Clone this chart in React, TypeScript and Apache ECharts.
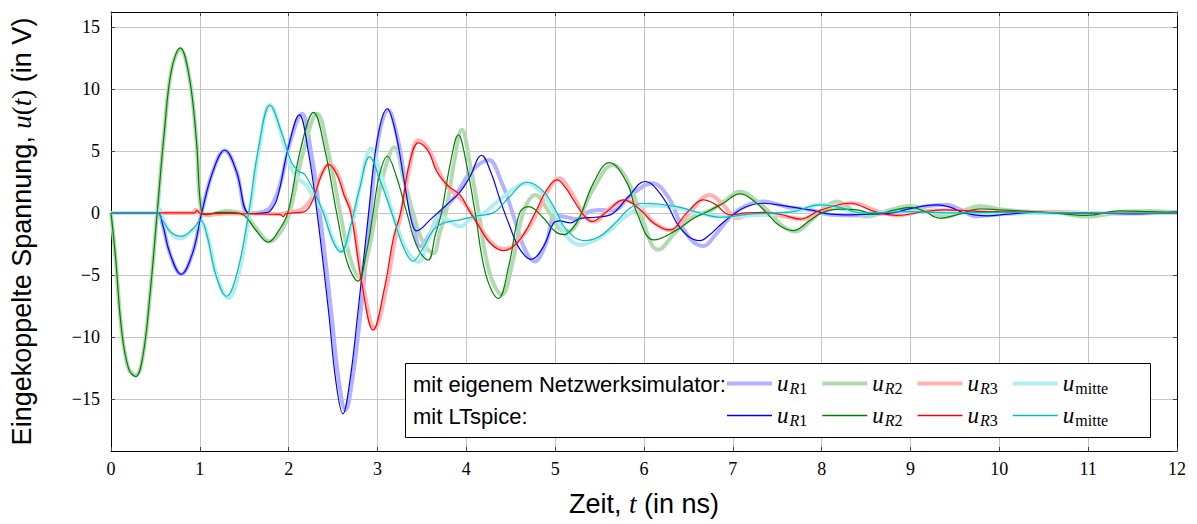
import React, { useEffect, useRef } from "react";
import * as echarts from "echarts";

type P = [number, number];

// t in ns, u in V
const ltR1: P[] = [[0,0],[0.52,0],[0.58,-0.9],[0.66,-3.2],[0.79,-4.95],[0.92,-3.2],[1.02,0],[1.15,3.4],[1.28,5.05],[1.41,3.4],[1.54,0],[1.62,-0.05],[1.72,0],[1.79,0.15],[1.87,1.15],[2.0,5.4],[2.12,7.9],[2.22,5.0],[2.32,0],[2.45,-8.0],[2.53,-13.5],[2.61,-16.2],[2.69,-13.5],[2.78,-8.0],[2.9,0],[3.0,6.0],[3.11,8.4],[3.2,6.6],[3.3,2.6],[3.38,-0.6],[3.44,-1.45],[3.6,-0.5],[3.77,0.6],[3.93,1.7],[4.04,2.9],[4.17,4.65],[4.28,3.2],[4.38,1.05],[4.49,-1.1],[4.6,-2.9],[4.73,-3.75],[4.87,-2.7],[4.98,-0.85],[5.05,-0.65],[5.17,-0.8],[5.28,-0.45],[5.45,-0.35],[5.62,-0.16],[5.81,1.18],[6.01,2.53],[6.22,1.18],[6.37,-0.83],[6.5,-1.9],[6.63,-2.23],[6.74,-1.77],[6.87,-0.9],[7.0,-0.16],[7.15,0.5],[7.34,0.78],[7.6,0.55],[7.87,0.24],[8.1,-0.1],[8.32,-0.16],[8.55,-0.1],[8.8,0],[9.0,0.35],[9.3,0.65],[9.45,0.45],[9.6,0],[9.86,-0.24],[10.1,-0.1],[10.4,0.05],[10.8,0],[11.2,-0.05],[11.6,-0.08],[12,0.08]];
const ltR2: P[] = [[0,0],[0.05,-3.5],[0.12,-9.5],[0.2,-12.6],[0.278,-13.2],[0.36,-11.5],[0.44,-6.5],[0.52,0],[0.6,6.5],[0.68,11.5],[0.78,13.3],[0.88,11.0],[0.96,6.0],[1.02,0],[1.08,-0.15],[1.2,0.05],[1.35,0.05],[1.5,-0.2],[1.62,-1.3],[1.77,-2.36],[1.89,-1.4],[1.99,0],[2.13,5.0],[2.28,8.1],[2.41,5.0],[2.54,0],[2.66,-4.0],[2.78,-5.5],[2.88,-3.0],[2.95,0],[3.02,3.0],[3.11,4.57],[3.21,3.0],[3.33,0],[3.45,-2.8],[3.57,-3.8],[3.65,-1.8],[3.72,0],[3.82,4.0],[3.91,6.3],[4.0,4.0],[4.1,0],[4.22,-5.0],[4.36,-6.9],[4.48,-4.2],[4.6,0],[4.7,0.5],[4.87,-0.43],[5.0,-1.5],[5.1,-1.75],[5.2,-1.2],[5.28,-0.3],[5.43,2.4],[5.61,4.06],[5.81,2.4],[5.92,0],[6.11,-2.18],[6.37,-1.37],[6.56,-0.43],[6.74,0.2],[6.89,0.78],[7.08,1.53],[7.25,0.9],[7.38,0],[7.52,-1.0],[7.68,-1.43],[7.85,-0.7],[8.0,0],[8.2,0.3],[8.4,0.25],[8.6,-0.1],[8.8,0.2],[9.0,0.45],[9.15,0.15],[9.33,-0.43],[9.55,-0.1],[9.78,0.32],[10.0,0.25],[10.23,0.16],[10.6,0],[10.98,-0.2],[11.36,0.16],[11.7,0.1],[12,0.05]];
const ltR3: P[] = [[0,0],[0.94,0],[0.97,0.2],[0.99,0.05],[1.02,-0.08],[1.3,-0.05],[1.6,-0.08],[1.9,-0.12],[1.94,-0.3],[1.97,-0.05],[2.05,0],[2.18,0.1],[2.27,1.0],[2.36,2.9],[2.45,3.92],[2.55,3.0],[2.62,1.5],[2.7,0],[2.82,-5.5],[2.95,-9.46],[3.08,-6.0],[3.18,-2.0],[3.26,0],[3.36,4.0],[3.46,5.65],[3.57,5.0],[3.67,3.3],[3.8,2.15],[3.93,1.45],[4.03,0.2],[4.12,-0.8],[4.27,-2.45],[4.42,-3.04],[4.6,-2.18],[4.79,0.24],[4.9,1.8],[5.02,2.66],[5.12,2.0],[5.2,1.1],[5.32,-0.16],[5.41,-0.7],[5.58,0.1],[5.77,1.05],[5.96,0.24],[6.11,-0.83],[6.29,-1.37],[6.48,0],[6.67,1.05],[6.8,0.7],[6.97,-0.16],[7.15,0],[7.35,0.05],[7.55,-0.15],[7.76,-0.5],[7.98,0.2],[8.32,0.78],[8.6,0.1],[8.85,-0.2],[9.15,0.1],[9.4,0.25],[9.7,0.15],[10.0,0.1],[10.5,0.05],[11,0],[11.5,-0.05],[12,-0.05]];
const ltMitte: P[] = [[0,0],[0.52,0],[0.58,-0.6],[0.68,-1.6],[0.8,-1.88],[0.92,-1.3],[1.01,-0.59],[1.08,-1.8],[1.18,-5.0],[1.3,-6.72],[1.42,-4.8],[1.55,0],[1.66,5.2],[1.79,8.68],[1.92,6.5],[2.03,4.1],[2.11,3.36],[2.18,3.1],[2.28,1.8],[2.39,0],[2.5,-2.3],[2.59,-3.15],[2.69,-1.2],[2.8,2.0],[2.91,4.52],[3.03,2.6],[3.16,0],[3.3,-2.9],[3.4,-3.9],[3.5,-3.0],[3.63,-1.37],[3.74,-0.83],[3.93,-0.56],[4.12,-0.24],[4.3,0],[4.49,1.32],[4.68,2.47],[4.87,1.72],[5.02,0],[5.12,-1.3],[5.32,-2.23],[5.5,-1.9],[5.69,-0.7],[5.84,0.38],[5.99,0.78],[6.37,0.51],[6.6,0.05],[6.86,-0.35],[7.2,-0.1],[7.5,0],[7.68,0.1],[7.98,0.65],[8.24,0.38],[8.43,0],[8.7,0.05],[9.0,0.1],[9.5,0],[10,0.05],[11,0],[12,0]];

const simR1: P[] = [[0,0],[0.52,0],[0.58,-0.9],[0.66,-3.2],[0.79,-4.95],[0.92,-3.2],[1.02,0],[1.15,3.4],[1.28,5.05],[1.41,3.4],[1.54,0],[1.62,0],[1.72,0.1],[1.8,0.5],[1.9,2.2],[2.02,5.8],[2.15,8.0],[2.25,5.0],[2.35,0],[2.48,-8.0],[2.56,-13.3],[2.64,-15.9],[2.72,-13.3],[2.81,-8.0],[2.92,0],[3.01,6.0],[3.12,8.3],[3.22,6.2],[3.32,2.2],[3.41,-1.0],[3.48,-2.7],[3.58,-1.8],[3.72,0],[3.88,1.4],[4.05,3.3],[4.25,4.27],[4.4,2.4],[4.52,0],[4.65,-2.8],[4.77,-3.92],[4.9,-2.4],[5.0,-0.2],[5.1,-0.3],[5.25,-0.5],[5.38,0.1],[5.5,0.24],[5.65,0.2],[5.85,1.4],[6.09,2.4],[6.28,1.2],[6.42,-1.0],[6.55,-2.3],[6.67,-2.66],[6.8,-1.8],[6.95,-0.5],[7.1,0.4],[7.34,0.91],[7.6,0.5],[7.9,0.2],[8.1,-0.15],[8.4,-0.2],[8.7,-0.05],[9.0,0.3],[9.2,0.55],[9.41,0.65],[9.55,0.3],[9.74,-0.27],[10.0,-0.1],[10.3,0.1],[10.6,0],[11,0],[11.4,-0.05],[12,0.05]];
const simR2: P[] = [[0,0],[0.05,-3.5],[0.12,-9.5],[0.2,-12.6],[0.28,-13.1],[0.36,-11.5],[0.44,-6.5],[0.52,0],[0.6,6.5],[0.68,11.5],[0.78,13.2],[0.88,11.0],[0.96,6.0],[1.02,0],[1.1,-0.2],[1.2,0],[1.3,0.15],[1.4,0.1],[1.52,-0.2],[1.64,-1.3],[1.79,-2.3],[1.91,-1.5],[2.01,0],[2.16,4.8],[2.32,8.0],[2.45,4.8],[2.58,0],[2.69,-3.6],[2.8,-5.2],[2.9,-3.0],[2.98,0],[3.07,3.2],[3.19,5.3],[3.3,2.6],[3.4,0],[3.52,-2.5],[3.63,-3.25],[3.7,-1.6],[3.77,0],[3.86,4.0],[3.95,6.7],[4.04,4.0],[4.14,0],[4.26,-4.8],[4.4,-6.6],[4.52,-4.0],[4.64,0],[4.78,1.45],[4.92,0.2],[5.05,-1.3],[5.15,-1.5],[5.25,-0.8],[5.42,1.8],[5.65,3.87],[5.83,2.4],[5.97,-0.3],[6.16,-2.98],[6.35,-1.6],[6.55,-0.3],[6.75,0.2],[6.9,0.9],[7.08,1.72],[7.28,0.9],[7.42,0],[7.55,-1.0],[7.7,-1.5],[7.88,-0.6],[8.0,0.2],[8.17,0.91],[8.35,0.2],[8.5,-0.3],[8.75,0.2],[9.0,0.56],[9.2,0.1],[9.4,-0.3],[9.6,0.2],[9.78,0.56],[10.0,0.3],[10.3,0.1],[10.6,0.05],[11.0,-0.3],[11.4,0.1],[11.7,0.15],[12,0]];
const simR3: P[] = [[0,0],[0.92,0],[0.95,0.25],[0.98,0.1],[1.02,-0.1],[1.15,-0.12],[1.3,-0.05],[1.6,-0.05],[1.9,-0.08],[2.0,0.05],[2.15,0.3],[2.26,1.2],[2.36,3.0],[2.46,3.92],[2.56,3.0],[2.63,1.5],[2.71,0],[2.83,-5.5],[2.97,-9.3],[3.1,-6.0],[3.2,-2.0],[3.27,0],[3.37,4.0],[3.46,5.86],[3.57,5.2],[3.7,3.2],[3.8,2.0],[3.89,1.45],[4.0,0.6],[4.1,-0.5],[4.27,-2.3],[4.42,-2.93],[4.62,-2.0],[4.82,0.3],[4.93,1.9],[5.05,2.8],[5.15,2.0],[5.25,0.8],[5.35,-0.4],[5.45,-0.7],[5.6,0.3],[5.8,1.0],[5.95,0.5],[6.1,-0.7],[6.3,-1.4],[6.5,-0.1],[6.74,1.45],[6.9,0.6],[7.04,-0.43],[7.2,-0.1],[7.5,-0.2],[7.8,-0.5],[8.0,0.1],[8.36,0.78],[8.6,0.2],[8.85,-0.2],[9.1,0.1],[9.4,0.2],[9.7,0.1],[10.0,-0.1],[10.3,0],[10.6,0.1],[11,0],[12,0]];
const simMitte: P[] = [[0,0],[0.5,0],[0.54,0.35],[0.58,-0.4],[0.67,-1.6],[0.78,-2.07],[0.9,-1.5],[1.02,-0.9],[1.1,-2.3],[1.2,-5.3],[1.32,-6.86],[1.44,-4.8],[1.56,0],[1.67,5.3],[1.79,8.7],[1.92,6.3],[2.03,3.6],[2.11,2.77],[2.2,2.2],[2.3,1.0],[2.4,0],[2.5,-2.2],[2.6,-3.1],[2.7,-1.3],[2.8,2.0],[2.93,5.19],[3.05,2.8],[3.17,0],[3.32,-2.9],[3.46,-3.95],[3.58,-2.0],[3.7,-0.3],[3.8,-0.6],[3.93,-1.1],[4.05,-0.5],[4.2,0],[4.45,1.5],[4.68,2.39],[4.85,1.6],[5.0,0],[5.12,-1.8],[5.28,-2.58],[5.45,-2.2],[5.6,-1.5],[5.75,-0.5],[5.9,0.2],[6.05,0.6],[6.3,0.5],[6.6,0],[6.9,-0.3],[7.2,-0.2],[7.5,-0.1],[7.75,0.2],[8.0,0.7],[8.25,0.3],[8.5,0],[9,0.1],[9.5,0],[10,0],[12,0]];

const seriesNames = ["simR1", "simR2", "simR3", "simMitte", "ltR1", "ltR2", "ltR3", "ltMitte"];
const seriesData = [simR1, simR2, simR3, simMitte, ltR1, ltR2, ltR3, ltMitte];
const seriesColors = ["#b3b3ff", "#b3d9b3", "#ffb3b3", "#b3eded", "#0000ff", "#008000", "#ff0000", "#00bfbf"];
const seriesWidths = [4, 4, 4, 4, 1.2, 1.2, 1.2, 1.2];
const legendLabels: Record<string, string> = {
  simR1: "{u|u}{s|R}{n|1}", simR2: "{u|u}{s|R}{n|2}", simR3: "{u|u}{s|R}{n|3}", simMitte: "{u|u}{n|mitte}",
  ltR1: "{u|u}{s|R}{n|1}", ltR2: "{u|u}{s|R}{n|2}", ltR3: "{u|u}{s|R}{n|3}", ltMitte: "{u|u}{n|mitte}",
};
const rowLabels = ["mit eigenem Netzwerksimulator:", "mit LTspice:"];

const SERIF = "'Liberation Serif', 'DejaVu Serif', serif";
const SANS = "'Liberation Sans', Arial, sans-serif";

export default function App() {
  const ref = useRef<HTMLDivElement>(null);
  useEffect(() => {
    const chart = echarts.init(ref.current!, null, { renderer: "svg" });
    const legendRich = {
      u: { fontFamily: SERIF, fontStyle: "italic", fontSize: 23, color: "#000", padding: [0, 1, 0, 0] },
      s: { fontFamily: SERIF, fontStyle: "italic", fontSize: 16, color: "#000", padding: [9, 0, 0, 0] },
      n: { fontFamily: SERIF, fontSize: 16, color: "#000", padding: [9, 0, 0, 0] },
    };
    const mkLegend = (names: string[], top: number, h: number) => ({
      data: names.map((n) => ({ name: n, icon: "rect" })),
      left: 727,
      top,
      orient: "horizontal",
      itemWidth: 45,
      itemHeight: h,
      itemGap: 15,
      padding: 0,
      formatter: (name: string) => legendLabels[name],
      textStyle: { rich: legendRich },
      z: 10,
    });
    const tickFmt = (v: number) => (v < 0 ? "\u2212" + Math.abs(v) : String(v));
    chart.setOption({
      animation: false,
      grid: { left: 111, right: 20, top: 12, bottom: 73, show: false },
      xAxis: [
        {
          type: "value", min: 0, max: 12, interval: 1,
          name: "{a|Zeit, }{m|t}{a| (in ns)}",
          nameLocation: "middle", nameGap: 39,
          nameTextStyle: { rich: { a: { fontFamily: SANS, fontSize: 27, color: "#000" }, m: { fontFamily: SERIF, fontStyle: "italic", fontSize: 27, color: "#000" } } },
          axisLine: { show: true, onZero: false, lineStyle: { color: "#000", width: 1 } },
          axisTick: { show: true, inside: true, length: 4, lineStyle: { color: "#444" } },
          axisLabel: { fontFamily: SERIF, fontSize: 18, color: "#000", margin: 9 },
          splitLine: { show: true, lineStyle: { color: "#c4c4c4", width: 1 } },
        },
        {
          type: "value", min: 0, max: 12, interval: 1, position: "top",
          axisLine: { show: true, onZero: false, lineStyle: { color: "#000", width: 1 } },
          axisTick: { show: true, inside: true, length: 4, lineStyle: { color: "#444" } },
          axisLabel: { show: false }, splitLine: { show: false },
        },
      ],
      yAxis: [
        {
          type: "value", min: -19.2, max: 16.2, splitNumber: 7,
          name: "{a|Eingekoppelte Spannung, }{m|u}{r|(}{m|t}{r|)}{a| (in V)}",
          nameLocation: "middle", nameGap: 76,
          nameTextStyle: { rich: {
            a: { fontFamily: SANS, fontSize: 27, color: "#000" },
            m: { fontFamily: SERIF, fontStyle: "italic", fontSize: 27, color: "#000" },
            r: { fontFamily: SERIF, fontSize: 27, color: "#000" },
          } },
          axisLine: { show: true, onZero: false, lineStyle: { color: "#000", width: 1 } },
          axisTick: { show: true, inside: true, length: 4, lineStyle: { color: "#444" } },
          axisLabel: { fontFamily: SERIF, fontSize: 18, color: "#000", margin: 11, formatter: tickFmt, showMinLabel: false, showMaxLabel: false },
          splitLine: { show: true, lineStyle: { color: "#c4c4c4", width: 1 } },
        },
        {
          type: "value", min: -19.2, max: 16.2, splitNumber: 7, position: "right",
          axisLine: { show: true, onZero: false, lineStyle: { color: "#000", width: 1 } },
          axisTick: { show: true, inside: true, length: 4, lineStyle: { color: "#444" } },
          axisLabel: { show: false }, splitLine: { show: false },
        },
      ],
      legend: [mkLegend(seriesNames.slice(0, 4), 372, 4), mkLegend(seriesNames.slice(4), 404, 1.5)],
      graphic: [
        { type: "rect", z: 5, shape: { x: 405.5, y: 363.5, width: 745, height: 74 }, style: { fill: "#fff", stroke: "#000", lineWidth: 1 } },
        { type: "text", z: 6, x: 413, y: 384, style: { text: rowLabels[0], font: "22px " + SANS, fill: "#000", verticalAlign: "middle" } },
        { type: "text", z: 6, x: 413, y: 416, style: { text: rowLabels[1], font: "22px " + SANS, fill: "#000", verticalAlign: "middle" } },
      ],
      series: seriesNames.map((name, i) => ({
        name,
        type: "line",
        data: seriesData[i],
        xAxisIndex: 0,
        yAxisIndex: 0,
        smooth: 0.4,
        symbol: "none",
        showSymbol: false,
        clip: true,
        lineStyle: { color: seriesColors[i], width: seriesWidths[i] },
        itemStyle: { color: seriesColors[i] },
        emphasis: { disabled: true },
        z: i < 4 ? 2 : 3,
      })),
    });
    return () => chart.dispose();
  }, []);
  return <div ref={ref} style={{ position: "absolute", left: 0, top: 0, width: 1197, height: 524 }} />;
}
